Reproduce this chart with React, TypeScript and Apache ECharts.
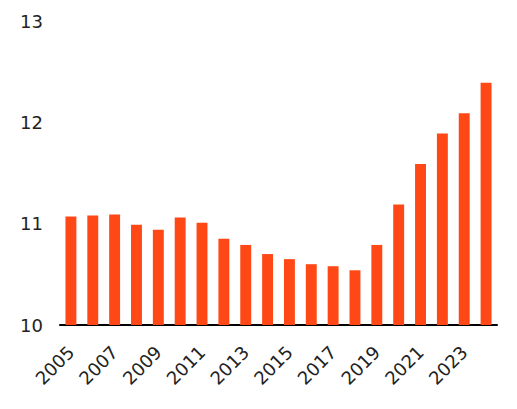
import React, { useRef, useEffect } from 'react';
import * as echarts from 'echarts';

const years = [
  '2005', '2006', '2007', '2008', '2009', '2010', '2011', '2012', '2013', '2014',
  '2015', '2016', '2017', '2018', '2019', '2020', '2021', '2022', '2023', '2024',
];
const values = [
  11.07, 11.08, 11.09, 10.99, 10.94, 11.06, 11.01, 10.85, 10.79, 10.7,
  10.65, 10.6, 10.58, 10.54, 10.79, 11.19, 11.59, 11.89, 12.09, 12.39,
];
const yMin = 10;
const yMax = 13;

const App: React.FC = () => {
  const chartRef = useRef<HTMLDivElement>(null);

  useEffect(() => {
    if (!chartRef.current) return;
    const chart = echarts.init(chartRef.current, null, { renderer: 'svg' });

    chart.setOption({
      animation: false,
      grid: { left: 60, right: 20, top: 21, bottom: 84 },
      xAxis: {
        type: 'category',
        data: years,
        axisLine: { lineStyle: { color: '#000', width: 2 } },
        axisTick: { show: false },
        axisLabel: {
          interval: 1,
          rotate: 45,
          margin: 24,
          color: '#222',
          fontSize: 18,
          fontFamily: 'DejaVu Sans',
        },
      },
      yAxis: {
        type: 'value',
        min: yMin,
        max: yMax,
        interval: 1,
        splitLine: { show: false },
        axisLine: { show: false },
        axisTick: { show: false },
        axisLabel: {
          margin: 17,
          color: '#222',
          fontSize: 18,
          fontFamily: 'DejaVu Sans',
        },
      },
      series: [
        {
          type: 'bar',
          data: values,
          barWidth: '50%',
          itemStyle: { color: '#FF4815' },
        },
      ],
    });

    return () => {
      chart.dispose();
    };
  }, []);

  return <div ref={chartRef} style={{ width: 517, height: 409, margin: -8 }} />;
};

export default App;
